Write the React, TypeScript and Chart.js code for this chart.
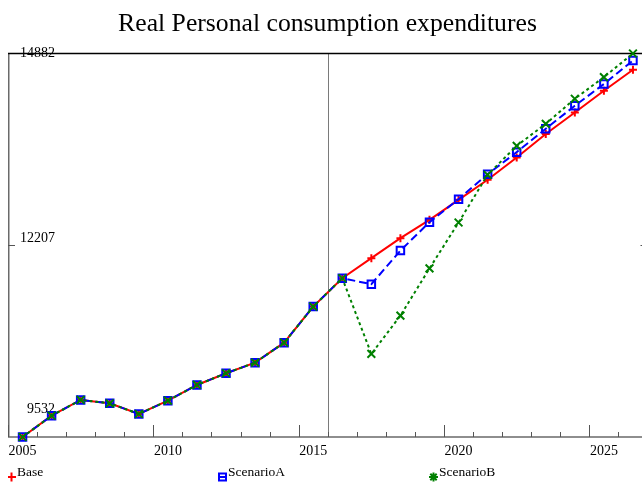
import { useEffect, useRef } from "react";
import { Chart, registerables } from "chart.js";

Chart.register(...registerables);

// Annual observations, 2005–2016 (shared by every series)
const historyYears = [2005, 2006, 2007, 2008, 2009, 2010, 2011, 2012, 2013, 2014, 2015, 2016];
const history = [9532, 9829, 10049, 10002, 9853, 10039, 10258, 10421, 10569, 10848, 11351, 11747];

// Projection years and the three scenario paths
const projectionYears = [2017, 2018, 2019, 2020, 2021, 2022, 2023, 2024, 2025, 2026];
const baseProjection = [12027, 12306, 12561, 12841, 13120, 13431, 13758, 14059, 14362, 14655];
const scenarioAProjection = [11664, 12133, 12529, 12850, 13199, 13506, 13832, 14153, 14456, 14785];
const scenarioBProjection = [10691, 11225, 11884, 12524, 13190, 13594, 13901, 14250, 14553, 14882];

const seriesNames = ["Base", "ScenarioA", "ScenarioB"];
const yTickValues = [9532, 12207, 14882];
const xTickLabels = [2005, 2010, 2015, 2020, 2025];
const forecastStart = 2015.5;
const xMin = 2004.5;
const xMax = 2026.5;
const titleText = "Real Personal consumption expenditures";

const SERIF = "'Liberation Serif', 'Times New Roman', serif";
const RED = "#ff0000";
const BLUE = "#0000ff";
const GREEN = "#008000";

function toPoints(projection: number[]) {
  const xs = [...historyYears, ...projectionYears];
  const ys = [...history, ...projection];
  return xs.map((x, i) => ({ x, y: ys[i] }));
}

// legend glyphs
function drawGlyph(ctx: CanvasRenderingContext2D, kind: number, x: number, y: number) {
  ctx.beginPath();
  if (kind === 0) {
    ctx.moveTo(x - 4.5, y);
    ctx.lineTo(x + 4.5, y);
    ctx.moveTo(x, y - 4.5);
    ctx.lineTo(x, y + 4.5);
  } else if (kind === 1) {
    ctx.rect(x - 3.5, y - 3.5, 7, 7);
    ctx.moveTo(x - 3.5, y);
    ctx.lineTo(x + 3.5, y);
  } else {
    const r = 4.5;
    const d = r * Math.SQRT1_2;
    ctx.moveTo(x - r, y);
    ctx.lineTo(x + r, y);
    ctx.moveTo(x, y - r);
    ctx.lineTo(x, y + r);
    ctx.moveTo(x - d, y - d);
    ctx.lineTo(x + d, y + d);
    ctx.moveTo(x - d, y + d);
    ctx.lineTo(x + d, y - d);
  }
  ctx.stroke();
}

const framePlugin = {
  id: "frame",
  beforeDatasetsDraw(chart: any) {
    const { ctx, chartArea } = chart;
    const xs = chart.scales.x;
    const ys = chart.scales.y;
    const { left, right, top, bottom } = chartArea;
    ctx.save();

    // forecast divider
    const xd = Math.round(xs.getPixelForValue(forecastStart)) + 0.5;
    ctx.strokeStyle = "#7a7a7a";
    ctx.lineWidth = 1;
    ctx.beginPath();
    ctx.moveTo(xd, top);
    ctx.lineTo(xd, bottom);
    ctx.stroke();

    // left, bottom and right axes
    ctx.strokeStyle = "#6a6a6a";
    ctx.lineWidth = 1.5;
    ctx.beginPath();
    ctx.moveTo(left + 0.75, top);
    ctx.lineTo(left + 0.75, bottom);
    ctx.lineTo(right, bottom);
    ctx.lineTo(right, top);
    ctx.stroke();

    // top border
    ctx.strokeStyle = "#000";
    ctx.lineWidth = 1.5;
    ctx.beginPath();
    ctx.moveTo(left, top);
    ctx.lineTo(right, top);
    ctx.stroke();

    // x ticks at year boundaries, longer every five years
    ctx.strokeStyle = "#555";
    ctx.lineWidth = 1;
    for (let k = 0; xMin + k <= xMax; k++) {
      const px = Math.round(xs.getPixelForValue(xMin + k)) + 0.5;
      const len = k % 5 === 0 ? 12 : 5;
      ctx.beginPath();
      ctx.moveTo(px, bottom);
      ctx.lineTo(px, bottom - len);
      ctx.stroke();
    }

    // y ticks at the middle value on both sides
    const ym = Math.round(ys.getPixelForValue(yTickValues[1])) + 0.5;
    ctx.beginPath();
    ctx.moveTo(left, ym);
    ctx.lineTo(left + 7, ym);
    ctx.moveTo(right - 7, ym);
    ctx.lineTo(right, ym);
    ctx.stroke();

    // y labels
    ctx.fillStyle = "#000";
    ctx.font = `14px ${SERIF}`;
    ctx.textAlign = "right";
    ctx.textBaseline = "middle";
    const yOffsets = [-28, -7, 0];
    yTickValues.forEach((v, i) => {
      ctx.fillText(String(v), left + 47, ys.getPixelForValue(v) + yOffsets[i]);
    });

    // x labels
    ctx.textAlign = "center";
    xTickLabels.forEach((yr) => {
      ctx.fillText(String(yr), xs.getPixelForValue(yr), bottom + 14);
    });
    ctx.restore();
  },
  afterDraw(chart: any) {
    const { ctx, chartArea } = chart;
    ctx.save();
    // title
    ctx.fillStyle = "#000";
    ctx.font = `25.7px ${SERIF}`;
    ctx.textAlign = "center";
    ctx.textBaseline = "alphabetic";
    ctx.fillText(titleText, 319.5, 23);

    // legend
    const colors = [RED, BLUE, GREEN];
    const yText = chartArea.bottom + 35;
    ctx.font = `13.5px ${SERIF}`;
    ctx.textAlign = "left";
    ctx.textBaseline = "middle";
    seriesNames.forEach((name, i) => {
      const mx = 3.5 + i * 211;
      ctx.strokeStyle = colors[i];
      ctx.lineWidth = 2;
      drawGlyph(ctx, i, mx, yText + 5);
      ctx.fillStyle = "#000";
      ctx.fillText(name, mx + 5.5, yText);
    });
    ctx.restore();
  },
};

export default function App() {
  const canvasRef = useRef<HTMLCanvasElement | null>(null);

  useEffect(() => {
    if (!canvasRef.current) return;
    const chart = new Chart(canvasRef.current, {
      type: "line",
      data: {
        datasets: [
          {
            label: seriesNames[0],
            data: toPoints(baseProjection),
            borderColor: RED,
            backgroundColor: RED,
            borderWidth: 2,
            pointStyle: "cross",
            pointRadius: 4,
            pointBorderWidth: 2,
            pointBorderColor: RED,
            order: 2,
            clip: false as any,
          },
          {
            label: seriesNames[1],
            data: toPoints(scenarioAProjection),
            borderColor: BLUE,
            backgroundColor: "rgba(0,0,0,0)",
            borderWidth: 2,
            borderDash: [8, 4],
            pointStyle: "rect",
            pointRadius: 5.3,
            pointBorderWidth: 2,
            pointBorderColor: BLUE,
            order: 1,
            clip: false as any,
          },
          {
            label: seriesNames[2],
            data: toPoints(scenarioBProjection),
            borderColor: GREEN,
            backgroundColor: GREEN,
            borderWidth: 2,
            borderDash: [3, 3],
            pointStyle: "crossRot",
            pointRadius: 5.5,
            pointBorderWidth: 2,
            pointBorderColor: GREEN,
            order: 0,
            clip: false as any,
          },
        ],
      },
      options: {
        responsive: false,
        animation: false,
        devicePixelRatio: 1,
        layout: { autoPadding: false, padding: { left: 0, right: 0.5, top: 45.5, bottom: 46 } },
        scales: {
          x: { type: "linear", min: xMin, max: xMax, display: false },
          y: { type: "linear", min: yTickValues[0], max: yTickValues[2], display: false },
        },
        plugins: {
          legend: { display: false },
          title: { display: false },
          tooltip: { enabled: false },
        },
      },
      plugins: [framePlugin],
    });
    return () => chart.destroy();
  }, []);

  return (
    <div
      style={{
        position: "absolute",
        left: 8,
        top: 8,
        width: 634,
        height: 475,
        overflow: "hidden",
        background: "#fff",
      }}
    >
      <canvas ref={canvasRef} width={640} height={475} style={{ width: 640, height: 475, display: "block" }} />
    </div>
  );
}
